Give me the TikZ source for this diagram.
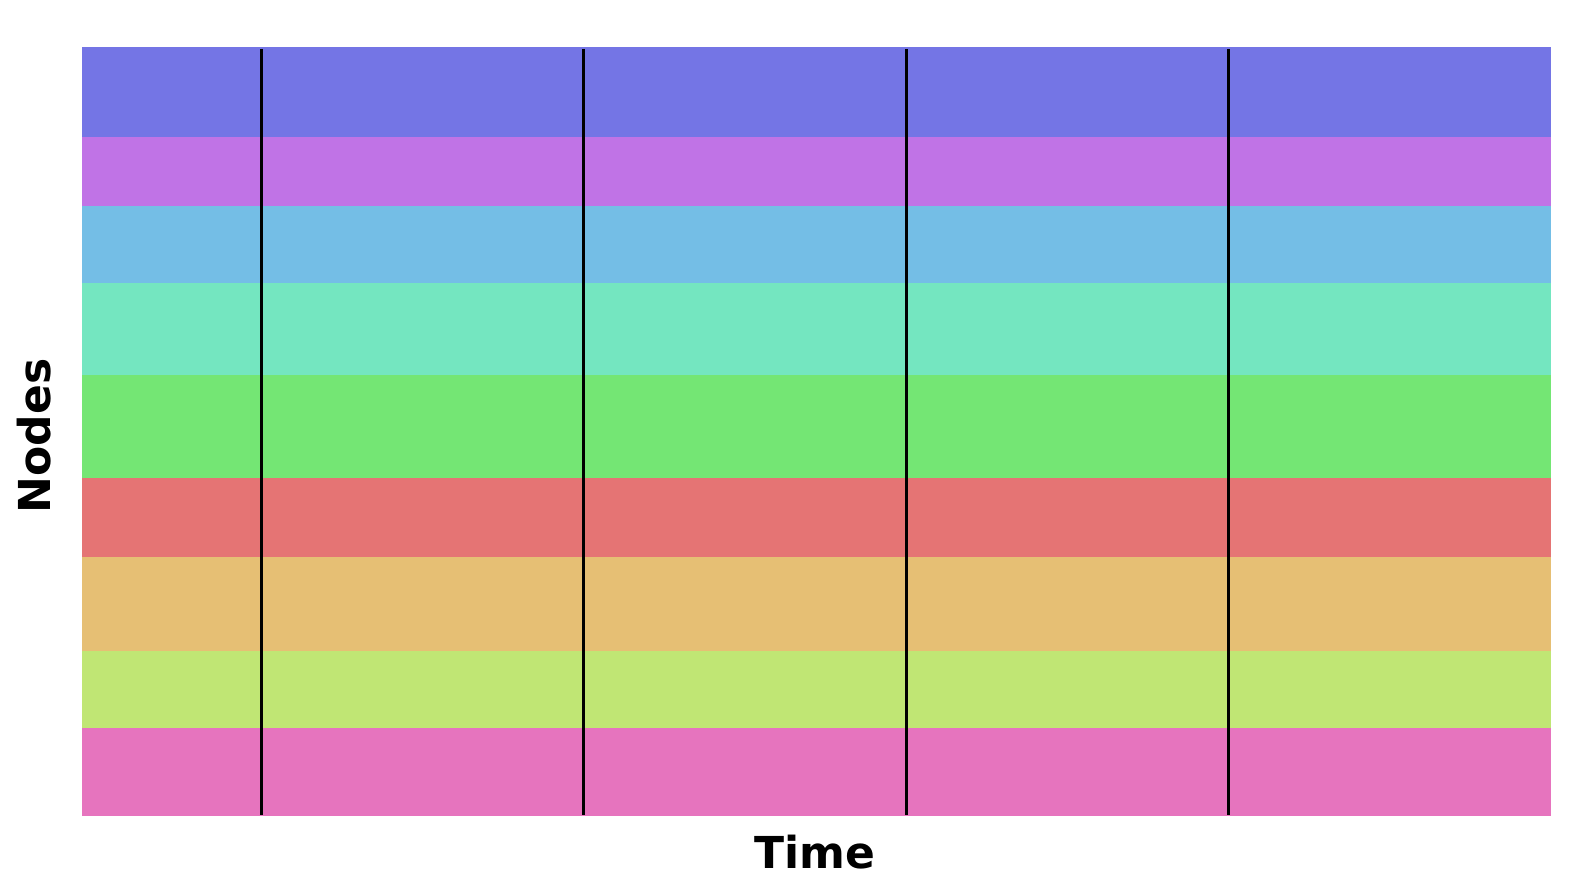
\documentclass[tikz,border=0pt]{standalone}
\usepackage{fontspec}
\setmainfont{DejaVu Sans}
\definecolor{c1}{RGB}{116,117,229}
\definecolor{c2}{RGB}{192,115,230}
\definecolor{c3}{RGB}{116,190,230}
\definecolor{c4}{RGB}{116,230,192}
\definecolor{c5}{RGB}{116,230,116}
\definecolor{c6}{RGB}{229,116,116}
\definecolor{c7}{RGB}{230,191,116}
\definecolor{c8}{RGB}{192,230,116}
\definecolor{c9}{RGB}{230,116,190}
\tikzset{
  band/.style={draw=none},
  sepline/.style={draw=black, line width=2.4pt},
  axlabel/.style={font=\fontsize{44}{52}\selectfont\bfseries, inner sep=0pt}
}
\begin{document}
\begin{tikzpicture}[x=1pt,y=-1pt]
\useasboundingbox (0,0) rectangle (1589,885);
\fill[white] (0,0) rectangle (1589,885);
\def\xl{82}\def\xr{1551}
\fill[c1] (\xl,47.3) rectangle (\xr,136.7);
\fill[c2] (\xl,136.7) rectangle (\xr,205.7);
\fill[c3] (\xl,205.7) rectangle (\xr,283);
\fill[c4] (\xl,283) rectangle (\xr,375.3);
\fill[c5] (\xl,375.3) rectangle (\xr,478);
\fill[c6] (\xl,478) rectangle (\xr,556.7);
\fill[c7] (\xl,556.7) rectangle (\xr,650.7);
\fill[c8] (\xl,650.7) rectangle (\xr,727.7);
\fill[c9] (\xl,727.7) rectangle (\xr,816);
\foreach \x in {261.3,583.3,906.3,1228.3}{
  \draw[sepline] (\x,49) -- (\x,815);
}
\node[axlabel, anchor=base] (time) at (815,868) {Time};
\node[axlabel, anchor=base, rotate=90] (nodes) at (50,436) {Nodes};
\end{tikzpicture}
\end{document}
